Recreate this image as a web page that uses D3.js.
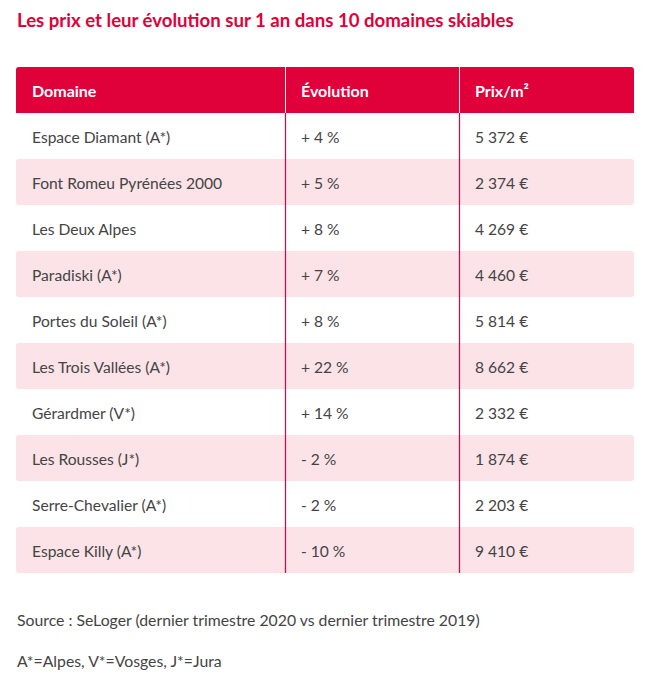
<!DOCTYPE html>
<html><head><meta charset="utf-8">
<script src="https://cdn.jsdelivr.net/npm/d3@7"></script>
<style>body{margin:0;background:#fff}svg{display:block}</style>
</head><body><svg id="c" width="650" height="678"></svg>
<script>
const title = "Les prix et leur évolution sur 1 an dans 10 domaines skiables";
const headers = ["Domaine", "Évolution", "Prix/m²"];
const domaines = ["Espace Diamant (A*)","Font Romeu Pyrénées 2000","Les Deux Alpes","Paradiski (A*)","Portes du Soleil (A*)","Les Trois Vallées (A*)","Gérardmer (V*)","Les Rousses (J*)","Serre-Chevalier (A*)","Espace Killy (A*)"];
const evolutions = [4,5,8,7,8,22,14,-2,-2,-10];
const prix = [5372,2374,4269,4460,5814,8662,2332,1874,2203,9410];
const notes = ["Source : SeLoger (dernier trimestre 2020 vs dernier trimestre 2019)","A*=Alpes, V*=Vosges, J*=Jura"];

const font = "Lato, sans-serif";
const red = "#e0003a", pink = "#fbe3e8", txt = "#444";
const svg = d3.select("#c");
const L = 16, R = 634, colX = [L, 285, 459, R];
const y = d3.scaleBand().domain(d3.range(-1, domaines.length)).range([67, 573]);

svg.append("text").attr("x",17).attr("y",27).attr("fill",red).attr("font-family",font)
  .attr("font-weight",700).attr("font-size",18.6).text(title);

// header
svg.append("path").attr("fill",red).attr("d",()=>{
  const t=y(-1), b=t+y.bandwidth(), r=3;
  return `M${L},${b}V${t+r}Q${L},${t} ${L+r},${t}H${R-r}Q${R},${t} ${R},${t+r}V${b}Z`;});
const rows = d3.range(domaines.length);
svg.selectAll("rect.row").data(rows.filter(i=>i%2===1)).join("rect")
  .attr("x",L).attr("y",i=>y(i)).attr("width",R-L).attr("height",y.bandwidth())
  .attr("rx",3).attr("fill",pink);
// dividers
[1,2].forEach(k=>{
  svg.append("line").attr("x1",colX[k]+0.5).attr("x2",colX[k]+0.5).attr("y1",y(-1)).attr("y2",y(0))
    .attr("stroke","#fff").attr("stroke-width",1);
  svg.append("line").attr("x1",colX[k]+0.5).attr("x2",colX[k]+0.5).attr("y1",y(0)).attr("y2",y.range()[1])
    .attr("stroke",red).attr("stroke-width",1.2);
});
const pad = 16;
headers.forEach((h,k)=>{
  svg.append("text").attr("x",colX[k]+pad).attr("y",y(-1)+y.bandwidth()/2+1).attr("dy","0.36em")
    .attr("fill","#fff").attr("font-family",font).attr("font-weight",700).attr("font-size",16).text(h);
});
const fmtN = n => d3.format(",")(n).replace(/,/g," ");
const evoStr = v => (v>=0?"+ ":"- ")+Math.abs(v)+" %";
const cells = rows.map(i=>[domaines[i], evoStr(evolutions[i]), fmtN(prix[i])+" €"]);
rows.forEach(i=>{
  cells[i].forEach((s,k)=>{
    svg.append("text").attr("x",colX[k]+pad).attr("y",y(i)+y.bandwidth()/2+1.5).attr("dy","0.36em")
      .attr("fill",txt).attr("font-family",font).attr("font-size",15.6).text(s);
  });
});
notes.forEach((n,j)=>{
  svg.append("text").attr("x",17).attr("y",[626,667][j]).attr("fill",txt).attr("font-family",font)
    .attr("font-size",15.8).text(n);
});
</script></body></html>
